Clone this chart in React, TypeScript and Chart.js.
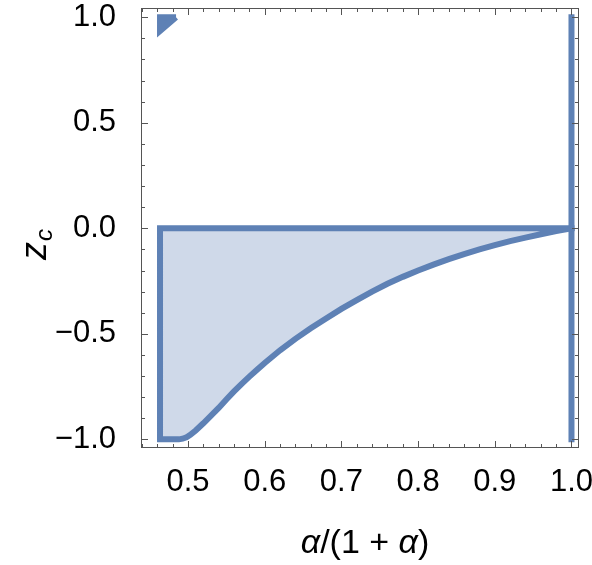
import { useEffect, useRef } from 'react'
import { Chart, registerables, ChartConfiguration, Plugin } from 'chart.js'

Chart.register(...registerables)

const FONT = '"Liberation Sans", Arial, sans-serif'
const BLUE = 'rgb(94, 129, 181)'
const SHADE = 'rgb(207, 217, 233)'
const FRAME = '#555'

// lower edge of the shaded region
const curveX = [0.4635, 0.488, 0.493, 0.498, 0.503, 0.51, 0.52, 0.53, 0.54, 0.55, 0.56, 0.57, 0.58, 0.59, 0.6, 0.62, 0.64, 0.66, 0.68, 0.7, 0.72, 0.74, 0.76, 0.78, 0.8, 0.82, 0.84, 0.86, 0.88, 0.9, 0.92, 0.94, 0.96, 0.98, 1.0]
const curveY = [-1, -1, -0.997, -0.99, -0.979, -0.958, -0.924, -0.888, -0.851, -0.811, -0.773, -0.737, -0.703, -0.67, -0.638, -0.578, -0.524, -0.474, -0.427, -0.382, -0.34, -0.3, -0.263, -0.23, -0.2, -0.172, -0.146, -0.122, -0.1, -0.08, -0.061, -0.044, -0.028, -0.013, 0]

// top edge and left edge of the region
const regionLeft = 0.4635
const regionTop = 0

// vertical wall at x = 1
const wallX = [1, 1]
const wallY = [-1, 1]

// small sliver in the upper-left corner
const sliverX = [0.4635, 0.4635, 0.4844]
const sliverY = [1, 0.935, 1]

// axes
const xRange = [0.4387, 1.0098]
const yRange = [-1.041, 1.044]
const xTicks = [0.5, 0.6, 0.7, 0.8, 0.9, 1.0]
const yTicks = [-1, -0.5, 0, 0.5, 1]
const xMinor = [0.44, 0.46, 0.48, 0.52, 0.54, 0.56, 0.58, 0.62, 0.64, 0.66, 0.68, 0.72, 0.74, 0.76, 0.78, 0.82, 0.84, 0.86, 0.88, 0.92, 0.94, 0.96, 0.98]
const yMinor = [-0.9, -0.8, -0.7, -0.6, -0.4, -0.3, -0.2, -0.1, 0.1, 0.2, 0.3, 0.4, 0.6, 0.7, 0.8, 0.9]

const fmt = (v: number) => (v < 0 ? '\u2212' : '') + Math.abs(v).toFixed(1)

// frame with inward ticks on all four sides
const framePlugin: Plugin<'line'> = {
  id: 'frame',
  afterDatasetsDraw(chart) {
    const { ctx, chartArea: a, scales } = chart
    const sx = scales.x
    const sy = scales.y
    ctx.save()
    ctx.strokeStyle = FRAME
    ctx.lineWidth = 1
    ctx.strokeRect(a.left + 0.5, a.top + 0.5, a.right - a.left - 1, a.bottom - a.top - 1)
    const tick = (x1: number, y1: number, x2: number, y2: number) => {
      ctx.beginPath()
      ctx.moveTo(x1, y1)
      ctx.lineTo(x2, y2)
      ctx.stroke()
    }
    const xs = [...xTicks.map(v => [v, 7]), ...xMinor.map(v => [v, 4])]
    xs.forEach(([v, len]) => {
      const px = Math.round(sx.getPixelForValue(v)) + 0.5
      tick(px, a.bottom, px, a.bottom - len)
      tick(px, a.top, px, a.top + len)
    })
    const ys = [...yTicks.map(v => [v, 7]), ...yMinor.map(v => [v, 4])]
    ys.forEach(([v, len]) => {
      const py = Math.round(sy.getPixelForValue(v)) + 0.5
      tick(a.left, py, a.left + len, py)
      tick(a.right, py, a.right - len, py)
    })
    ctx.restore()
  },
}

// axis titles with italic symbols and subscript
const titlePlugin: Plugin<'line'> = {
  id: 'titles',
  afterDraw(chart) {
    const { ctx, chartArea: a } = chart
    ctx.save()
    ctx.fillStyle = '#000'
    ctx.textBaseline = 'alphabetic'
    ctx.textAlign = 'left'

    const parts: [string, boolean][] = [
      ['\u03b1', true],
      ['/(1', false],
      [' + ', false],
      ['\u03b1', true],
      [')', false],
    ]
    const size = 34
    const font = (it: boolean) => `${it ? 'italic ' : ''}${size}px ${FONT}`
    let w = 0
    parts.forEach(([t, it]) => {
      ctx.font = font(it)
      w += ctx.measureText(t).width
    })
    let x = (a.left + a.right) / 2 - w / 2 + 5
    parts.forEach(([t, it]) => {
      ctx.font = font(it)
      ctx.fillText(t, x, 553)
      x += ctx.measureText(t).width
    })

    ctx.translate(46, 260)
    ctx.rotate(-Math.PI / 2)
    ctx.font = `italic ${size + 2}px ${FONT}`
    ctx.fillText('z', 0, 0)
    const zw = ctx.measureText('z').width
    ctx.font = `italic ${Math.round(size * 0.72)}px ${FONT}`
    ctx.fillText('c', zw + 1, 6)
    ctx.restore()
  },
}

export default function App() {
  const canvasRef = useRef<HTMLCanvasElement>(null)
  const chartRef = useRef<Chart | null>(null)

  useEffect(() => {
    document.body.style.margin = '0'
    if (!canvasRef.current) return
    if (chartRef.current) chartRef.current.destroy()

    const curve = curveX.map((x, i) => ({ x, y: curveY[i] }))
    const regionFill = [{ x: regionLeft, y: regionTop }, ...curve]
    const regionEdge = [{ x: curveX[curveX.length - 1], y: regionTop }, { x: regionLeft, y: regionTop }, ...curve]
    const sliver = sliverX.map((x, i) => ({ x, y: sliverY[i] }))
    const sliverEdge = [sliver[2], sliver[0], sliver[1], sliver[2]]
    const wall = wallX.map((x, i) => ({ x, y: wallY[i] }))

    const common = { pointRadius: 0, pointHoverRadius: 0, tension: 0 }
    const noPad = (s: any) => {
      s.paddingTop = 0
      s.paddingBottom = 0
      s.paddingLeft = 0
      s.paddingRight = 0
    }

    const config: ChartConfiguration<'line'> = {
      type: 'line',
      data: {
        datasets: [
          { ...common, order: 3, data: regionFill, borderWidth: 0, backgroundColor: SHADE, fill: { value: regionTop } },
          { ...common, order: 3, data: sliver, borderWidth: 0, backgroundColor: BLUE, fill: { value: sliverY[0] } },
          { ...common, order: 1, data: regionEdge, borderColor: BLUE, borderWidth: 6, borderJoinStyle: 'miter', borderCapStyle: 'square', fill: false },
          { ...common, order: 1, data: sliverEdge, borderColor: BLUE, borderWidth: 6, borderJoinStyle: 'miter', borderCapStyle: 'butt', fill: false },
          { ...common, order: 1, data: wall, borderColor: BLUE, borderWidth: 6, borderCapStyle: 'square', fill: false },
        ],
      },
      options: {
        animation: false,
        responsive: true,
        maintainAspectRatio: false,
        devicePixelRatio: 1,
        layout: { padding: { top: 8, right: 13, left: 0, bottom: 0 } },
        plugins: {
          legend: { display: false },
          tooltip: { enabled: false },
        },
        scales: {
          x: {
            type: 'linear',
            min: xRange[0],
            max: xRange[1],
            grid: { display: false },
            border: { display: false },
            afterFit: (s) => { s.height = 117; noPad(s) },
            afterBuildTicks: (s) => { s.ticks = xTicks.map(value => ({ value })) },
            ticks: {
              autoSkip: false,
              maxRotation: 0,
              padding: 8,
              color: '#000',
              font: { family: FONT, size: 31 },
              callback: (v) => fmt(Number(v)),
            },
          },
          y: {
            type: 'linear',
            min: yRange[0],
            max: yRange[1],
            grid: { display: false },
            border: { display: false },
            afterFit: (s) => { s.width = 141; noPad(s) },
            afterBuildTicks: (s) => { s.ticks = yTicks.map(value => ({ value })) },
            ticks: {
              autoSkip: false,
              padding: 17,
              color: '#000',
              font: { family: FONT, size: 31 },
              callback: (v) => fmt(Number(v)),
            },
          },
        },
      },
      plugins: [framePlugin, titlePlugin],
    }

    chartRef.current = new Chart(canvasRef.current, config)
    return () => {
      chartRef.current?.destroy()
      chartRef.current = null
    }
  }, [])

  return (
    <div style={{ width: 592, height: 565, position: 'relative', background: '#fff' }}>
      <canvas ref={canvasRef} />
    </div>
  )
}
